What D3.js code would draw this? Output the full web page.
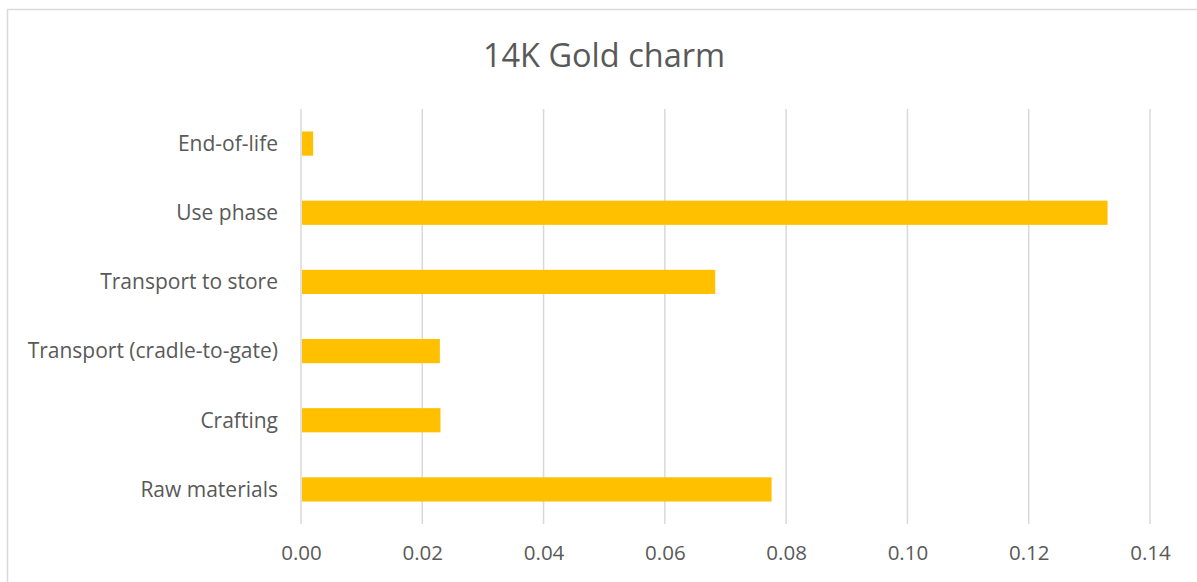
<!DOCTYPE html>
<html>
<head>
<meta charset="utf-8">
<script src="https://cdn.jsdelivr.net/npm/d3@7"></script>
<style>
  html, body { margin: 0; padding: 0; background: #ffffff; }
  svg { display: block; }
  text { font-family: "Open Sans", sans-serif; fill: #595959; }
</style>
</head>
<body>
<svg id="chart" width="1197" height="582"></svg>
<script>
// Emission contribution per life-cycle stage
const stages = ["Raw materials", "Crafting", "Transport (cradle-to-gate)", "Transport to store", "Use phase", "End-of-life"];
const values = [0.0776, 0.0230, 0.0229, 0.0683, 0.1330, 0.0020];
const xTicks = [0, 0.02, 0.04, 0.06, 0.08, 0.10, 0.12, 0.14];
const title = "14K Gold charm";

const W = 1197, H = 582;
const FONT = "'Open Sans', sans-serif";
const svg = d3.select("#chart");

// chart frame
svg.append("rect")
  .attr("x", 7.5).attr("y", 9.5)
  .attr("width", W).attr("height", H)
  .attr("fill", "none").attr("stroke", "#d9d9d9").attr("stroke-width", 1.5);

const plot = { left: 301, right: 1150, top: 109, bottom: 524 };

const x = d3.scaleLinear().domain([0, 0.14]).range([plot.left, plot.right]);
const y = d3.scaleBand()
  .domain(stages.slice().reverse())
  .range([plot.top, plot.bottom])
  .paddingInner(0.65).paddingOuter(0.325);

// vertical gridlines
svg.append("g").selectAll("line").data(xTicks).join("line")
  .attr("x1", d => x(d)).attr("x2", d => x(d))
  .attr("y1", plot.top).attr("y2", plot.bottom)
  .attr("stroke", "#d9d9d9").attr("stroke-width", 1.5);

// bars
svg.append("g").selectAll("rect").data(stages).join("rect")
  .attr("x", x(0) + 1)
  .attr("y", d => y(d))
  .attr("width", (d, i) => x(values[i]) - x(0) - 1)
  .attr("height", y.bandwidth())
  .attr("fill", "#ffc000");

// x axis labels
const xAxis = d3.axisBottom(x).tickValues(xTicks).tickFormat(d3.format(".2f")).tickSize(0).tickPadding(0);
const gx = svg.append("g").attr("transform", `translate(0,${plot.bottom + 36})`).call(xAxis);
gx.select(".domain").remove();
gx.selectAll("text").attr("font-size", 20.5).attr("fill", "#595959").attr("dy", "0")
  .style("font-family", FONT);

// y axis labels
const yAxis = d3.axisLeft(y).tickSize(0).tickPadding(0);
const gy = svg.append("g").attr("transform", `translate(${plot.left - 23},0)`).call(yAxis);
gy.select(".domain").remove();
gy.selectAll("text").attr("font-size", 21).attr("fill", "#595959").attr("dy", "0.35em")
  .style("font-family", FONT);

// title
svg.append("text")
  .attr("x", 604).attr("y", 67)
  .attr("text-anchor", "middle")
  .attr("font-size", 32.5)
  .text(title);
</script>
</body>
</html>
